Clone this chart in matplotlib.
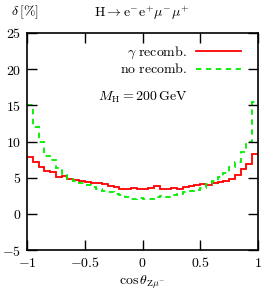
import numpy as np
import matplotlib
matplotlib.use("Agg")
import matplotlib.pyplot as plt

plt.rcParams['mathtext.fontset'] = 'cm'
plt.rcParams['font.family'] = 'serif'
plt.rcParams['font.serif'] = ['DejaVu Serif']

# 40 bins in cos(theta) from -1 to 1
bin_lo, bin_hi, n_bins = -1.0, 1.0, 40
gamma_recomb = [7.9, 7.2, 6.5, 5.9, 5.8, 5.1, 5.2, 4.8, 4.7, 4.6,
                4.4, 4.3, 4.2, 4.1, 3.9, 3.7, 3.5, 3.5, 3.6, 3.4,
                3.5, 3.6, 3.8, 3.5, 3.4, 3.6, 3.5, 3.7, 3.9, 4.0,
                4.1, 4.0, 4.2, 4.4, 4.5, 4.8, 5.3, 6.2, 6.9, 8.3]
no_recomb = [15.1, 12.0, 10.0, 8.0, 7.5, 6.3, 5.5, 4.8, 4.5, 4.3,
             4.0, 3.7, 3.4, 3.2, 3.0, 2.8, 2.6, 2.3, 2.1, 2.2,
             2.1, 2.0, 2.3, 2.4, 2.3, 2.6, 2.8, 3.0, 3.2, 3.3,
             3.6, 4.1, 4.6, 5.1, 5.7, 6.5, 7.1, 8.6, 10.0, 15.5]

xticks = [-1, -0.5, 0, 0.5, 1]
xticklabels = [r'$-1$', r'$-0.5$', r'$0$', r'$0.5$', r'$1$']
yticks = [-5, 0, 5, 10, 15, 20, 25]
yticklabels = [r'$-5$', r'$0$', r'$5$', r'$10$', r'$15$', r'$20$', r'$25$']

fs = 10
fig = plt.figure(figsize=(2.63, 2.95), dpi=100)
ax = fig.add_axes([27/263, 1-250/295, (258-27)/263, (250-33)/295])

edges = np.linspace(bin_lo, bin_hi, n_bins + 1)
ax.stairs(gamma_recomb, edges, color='#ff0000', lw=1.3, label=r'$\gamma\ \mathrm{recomb.}$', baseline=None)
ax.stairs(no_recomb, edges, color='#00ee00', lw=1.3, ls=(0, (3, 2.5)), label=r'$\mathrm{no\ recomb.}$', baseline=None)

ax.set_xlim(-1, 1)
ax.set_ylim(-5, 25)
ax.set_xticks(xticks)
ax.set_xticklabels(xticklabels, fontsize=fs)
ax.set_yticks(yticks)
ax.set_yticklabels(yticklabels, fontsize=fs)
ax.tick_params(direction='in', length=7, width=1, top=True, right=True, pad=4)
for s in ax.spines.values():
    s.set_linewidth(1.2)

ax.legend(loc='upper right', frameon=False, markerfirst=False, fontsize=fs,
          handlelength=3.3, handletextpad=0.6, labelspacing=0.1,
          borderaxespad=0.3, bbox_to_anchor=(0.97, 0.99))

ax.text(0.0, 16.1, r'$M_{\mathrm{H}} = 200\,\mathrm{GeV}$', ha='center', va='center', fontsize=fs)
fig.text(142/263, 1-13/295, r'$\mathrm{H} \rightarrow \mathrm{e}^{-}\mathrm{e}^{+}\mu^{-}\mu^{+}$',
         ha='center', va='center', fontsize=fs)
fig.text(25/263, 1-12/295, r'$\delta\,[\%]$', ha='center', va='center', fontsize=fs)
fig.text(142/263, 1-282/295, r'$\cos\theta_{\mathrm{Z}\mu^{-}}$', ha='center', va='center', fontsize=fs)

fig.savefig('out.png', dpi=100)
